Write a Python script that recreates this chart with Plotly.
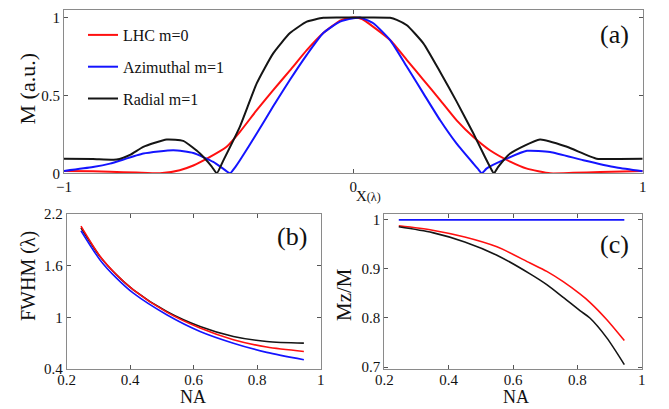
import plotly.graph_objects as go

# ---------------- Panel (a): M vs X ----------------
lhc_x = [-1, -0.9, -0.841, -0.75, -0.668, -0.6, -0.553, -0.5, -0.438, -0.392, -0.334, -0.277, -0.219,
         -0.161, -0.104, -0.046, -0.02, 0.005, 0.03, 0.069, 0.127, 0.185, 0.242, 0.30, 0.357, 0.415,
         0.472, 0.542, 0.60, 0.68, 0.76, 0.853, 0.93, 1]
lhc_y = [0.015, 0.013, 0.01, 0.005, 0.0, 0.02, 0.05, 0.1, 0.17, 0.266, 0.405, 0.534, 0.66,
         0.79, 0.90, 0.98, 0.995, 1.0, 0.99, 0.94, 0.855, 0.727, 0.60, 0.47, 0.34, 0.233,
         0.148, 0.075, 0.03, 0.0, 0.003, 0.008, 0.012, 0.015]

azi_x = [-1, -0.9, -0.841, -0.726, -0.622, -0.553, -0.484, -0.45, -0.426, -0.41, -0.392, -0.334,
         -0.277, -0.219, -0.161, -0.104, -0.046, 0.0, 0.023, 0.069, 0.127, 0.185, 0.242, 0.30,
         0.357, 0.415, 0.43, 0.444, 0.46, 0.518, 0.60, 0.68, 0.795, 0.91, 1]
azi_y = [0.015, 0.04, 0.062, 0.127, 0.148, 0.13, 0.073, 0.03, 0.0, 0.035, 0.084, 0.255,
         0.43, 0.60, 0.76, 0.90, 0.973, 0.995, 1.0, 0.963, 0.855, 0.684, 0.513, 0.34,
         0.19, 0.062, 0.03, 0.0, 0.03, 0.084, 0.144, 0.137, 0.084, 0.037, 0.013]

rad_x = [-1, -0.9, -0.818, -0.77, -0.726, -0.645, -0.588, -0.53, -0.49, -0.472, -0.45, -0.392,
         -0.334, -0.277, -0.219, -0.161, -0.104, -0.05, 0.0, 0.06, 0.127, 0.15, 0.185, 0.242,
         0.30, 0.357, 0.415, 0.449, 0.47, 0.486, 0.50, 0.542, 0.645, 0.738, 0.841, 0.92, 1]
rad_y = [0.094, 0.092, 0.088, 0.12, 0.17, 0.217, 0.208, 0.127, 0.045, 0.0, 0.08, 0.30,
         0.577, 0.77, 0.90, 0.973, 0.998, 1.0, 1.0, 1.0, 0.998, 0.985, 0.95, 0.834,
         0.65, 0.46, 0.255, 0.127, 0.05, 0.0, 0.04, 0.127, 0.217, 0.17, 0.094, 0.092, 0.094]

# ---------------- Panel (b): FWHM vs NA ----------------
na_b = [0.245, 0.305, 0.357, 0.41, 0.515, 0.62, 0.725, 0.83, 0.947]
fwhm_rad = [2.04, 1.705, 1.493, 1.32, 1.068, 0.894, 0.778, 0.72, 0.70]
fwhm_lhc = [2.06, 1.71, 1.495, 1.32, 1.06, 0.875, 0.74, 0.655, 0.604]
fwhm_azi = [2.006, 1.667, 1.455, 1.28, 1.03, 0.836, 0.70, 0.593, 0.508]

# ---------------- Panel (c): Mz/M vs NA ----------------
na_c = [0.245, 0.35, 0.45, 0.55, 0.653, 0.705, 0.756, 0.808, 0.839, 0.891, 0.946]
mz_lhc = [0.988, 0.979, 0.965, 0.945, 0.912, 0.895, 0.874, 0.849, 0.832, 0.797, 0.754]
mz_rad = [0.986, 0.974, 0.955, 0.928, 0.89, 0.868, 0.842, 0.815, 0.80, 0.76, 0.705]
na_c_azi = [0.245, 0.946]
mz_azi = [1.0, 1.0]

RED = "#ff1010"
BLUE = "#1414ff"
BLACK = "#151515"
FONT = "Liberation Serif"

W, H = 669, 409

def px_x(p):
    return p / W

def px_y(p):
    return 1 - p / H

fig = go.Figure()

# Panel (a)
for xs, ys, name, col in [(lhc_x, lhc_y, "LHC m=0", RED),
                          (azi_x, azi_y, "Azimuthal m=1", BLUE),
                          (rad_x, rad_y, "Radial m=1", BLACK)]:
    fig.add_trace(go.Scatter(x=xs, y=ys, mode="lines", name=name, legendgroup=name,
                             line=dict(color=col, width=2, shape="spline", smoothing=0.5),
                             xaxis="x", yaxis="y"))

# Panel (b)
for ys, col in [(fwhm_rad, BLACK), (fwhm_lhc, RED), (fwhm_azi, BLUE)]:
    fig.add_trace(go.Scatter(x=na_b, y=ys, mode="lines", showlegend=False,
                             line=dict(color=col, width=1.6, shape="spline", smoothing=0.8),
                             xaxis="x2", yaxis="y2"))

# Panel (c)
for xs, ys, col in [(na_c_azi, mz_azi, BLUE), (na_c, mz_lhc, RED), (na_c, mz_rad, BLACK)]:
    fig.add_trace(go.Scatter(x=xs, y=ys, mode="lines", showlegend=False,
                             line=dict(color=col, width=1.6, shape="spline", smoothing=0.8),
                             xaxis="x3", yaxis="y3"))

axis_common = dict(showline=True, linecolor="#8a8a8a", linewidth=1, mirror="allticks",
                   ticks="inside", ticklen=4, tickcolor="#555555", showgrid=False,
                   zeroline=False, automargin=False,
                   tickfont=dict(family=FONT, size=15, color="#111"))

fig.update_layout(
    width=W, height=H,
    margin=dict(l=0, r=0, t=0, b=0),
    paper_bgcolor="white", plot_bgcolor="white",
    font=dict(family=FONT, color="#111"),
    xaxis=dict(domain=[px_x(64), px_x(642.7)], range=[-1, 1], tickvals=[-1, 0, 1],
               ticktext=["\u22121", "0", "1"], anchor="y", **axis_common),
    yaxis=dict(domain=[px_y(173.3), px_y(10)], range=[0, 1.048], tickvals=[0, 0.5, 1],
               ticktext=["0", "0.5", "1"], anchor="x", **axis_common),
    xaxis2=dict(domain=[px_x(66.7), px_x(320.7)], range=[0.2, 1], tickvals=[0.2, 0.4, 0.6, 0.8, 1],
                ticktext=["0.2", "0.4", "0.6", "0.8", "1"], anchor="y2", ticklabelstandoff=-3,
                **axis_common),
    yaxis2=dict(domain=[px_y(369), px_y(214)], range=[0.4, 2.2], tickvals=[0.4, 1, 1.6, 2.2],
                ticktext=["0.4", "1", "1.6", "2.2"], anchor="x2", **axis_common),
    xaxis3=dict(domain=[px_x(384.3), px_x(641.7)], range=[0.2, 1], tickvals=[0.2, 0.4, 0.6, 0.8, 1],
                ticktext=["0.2", "0.4", "0.6", "0.8", "1"], anchor="y3", ticklabelstandoff=-3,
                **axis_common),
    yaxis3=dict(domain=[px_y(369), px_y(214)], range=[0.696, 1.012], tickvals=[0.7, 0.8, 0.9, 1],
                ticktext=["0.7", "0.8", "0.9", "1"], anchor="x3", **axis_common),
    legend=dict(x=px_x(83), y=px_y(18), xanchor="left", yanchor="top",
                bgcolor="rgba(0,0,0,0)", borderwidth=0, traceorder="grouped",
                tracegroupgap=8, font=dict(family=FONT, size=16, color="#111")),
    showlegend=True,
)

annotations = [
    dict(text="(a)", x=px_x(614), y=px_y(34), font=dict(size=26)),
    dict(text="(b)", x=px_x(292), y=px_y(237), font=dict(size=26)),
    dict(text="(c)", x=px_x(614), y=px_y(244), font=dict(size=26)),
    dict(text="M (a.u.)", x=px_x(27.5), y=px_y(89), textangle=-90, font=dict(size=22)),
    dict(text="FWHM (\u03bb)", x=px_x(28), y=px_y(276), textangle=-90, font=dict(size=20)),
    dict(text="Mz/M", x=px_x(344), y=px_y(295), textangle=-90, font=dict(size=21)),
    dict(text="NA", x=px_x(193), y=0, yanchor="bottom", font=dict(size=18)),
    dict(text="NA", x=px_x(516), y=0, yanchor="bottom", font=dict(size=18)),
    dict(text="X<span style='font-size:12px'>(\u03bb)</span>", x=px_x(368), y=px_y(196),
         font=dict(size=15)),
]
for a in annotations:
    a.setdefault("yanchor", "middle")
    a.update(xref="paper", yref="paper", showarrow=False, xanchor="center")
    a["font"] = dict(family=FONT, color="#111", **a["font"])
fig.update_layout(annotations=annotations)

fig.write_html("out.html", config={"displayModeBar": False},
               post_script="document.body.style.margin='0px';")
